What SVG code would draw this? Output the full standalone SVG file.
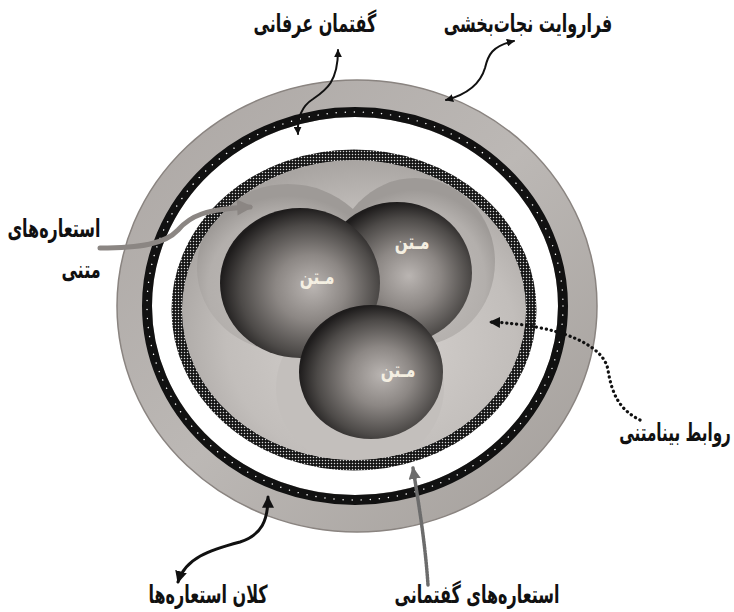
<svg xmlns="http://www.w3.org/2000/svg" width="734" height="612" viewBox="0 0 734 612">
<style>
.lbl{font-family:"DejaVu Sans",sans-serif;font-weight:bold;font-size:20px;fill:#111;}
.tx{font-family:"DejaVu Sans",sans-serif;font-weight:bold;font-size:17px;fill:#f4efe2;}
.conn{fill:none;stroke-linecap:round;}
</style>
<defs>
<linearGradient id="gOuter" x1="0" y1="0" x2="1" y2="1">
<stop offset="0" stop-color="#aba6a3"/>
<stop offset="0.5" stop-color="#bcb8b5"/>
<stop offset="1" stop-color="#a29d99"/>
</linearGradient>
<radialGradient id="gInner" cx="0.55" cy="0.6" r="0.6">
<stop offset="0" stop-color="#d6d2cf"/>
<stop offset="0.7" stop-color="#c2bebb"/>
<stop offset="1" stop-color="#a9a5a2"/>
</radialGradient>
<radialGradient id="gHalo" cx="0.5" cy="0.62" r="0.55">
<stop offset="0" stop-color="#c4c0bd"/>
<stop offset="0.8" stop-color="#b3afac"/>
<stop offset="1" stop-color="#9e9a97"/>
</radialGradient>
<radialGradient id="gSphere" cx="0.55" cy="0.55" r="0.55" fx="0.58" fy="0.52">
<stop offset="0" stop-color="#bab5b2"/>
<stop offset="0.4" stop-color="#8c8784"/>
<stop offset="0.78" stop-color="#4d4a48"/>
<stop offset="1" stop-color="#1e1c1c"/>
</radialGradient>
<pattern id="pDots" width="3" height="3" patternUnits="userSpaceOnUse">
<rect width="3" height="3" fill="#151515"/>
<circle cx="1.5" cy="1.5" r="0.75" fill="#d8d8d8"/>
</pattern>
<clipPath id="cInner"><ellipse cx="354" cy="310" rx="172" ry="150"/></clipPath>
<marker id="ah" viewBox="0 0 10 10" refX="9" refY="5" markerWidth="4" markerHeight="4" orient="auto-start-reverse" markerUnits="strokeWidth">
<path d="M0,0 L10,5 L0,10 z" fill="#111"/>
</marker>
<marker id="ahDot" viewBox="0 0 10 10" refX="9" refY="5" markerWidth="3.5" markerHeight="3.5" orient="auto" markerUnits="strokeWidth">
<path d="M0,0 L10,5 L0,10 z" fill="#111"/>
</marker>
<marker id="ahGray" viewBox="0 0 10 10" refX="8" refY="5" markerWidth="4" markerHeight="3.2" orient="auto" markerUnits="strokeWidth">
<path d="M0,0 L10,5 L0,10 z" fill="#8b8683"/>
</marker>
<marker id="ahHalf" viewBox="0 0 10 10" refX="9" refY="5" markerWidth="3.5" markerHeight="3.5" orient="auto" markerUnits="strokeWidth">
<path d="M0,0 L10,5 L0,10 z" fill="#6c6c6c"/>
</marker>
</defs>

<g id="outer-disk">
<ellipse cx="357" cy="306" rx="240" ry="226" fill="url(#gOuter)" stroke="#8a8480" stroke-width="1.5"/>
<ellipse cx="355" cy="306" rx="203" ry="189" fill="#fff"/>
</g>
<g id="ring-kalan">
<ellipse cx="355" cy="306" rx="208" ry="194" fill="none" stroke="#111" stroke-width="10"/>
<ellipse cx="355" cy="306" rx="208" ry="194" fill="none" stroke="#fff" stroke-width="1.4" stroke-dasharray="0.1 9" stroke-linecap="round"/>
</g>
<g id="ring-goftemani">
<ellipse cx="354" cy="310" rx="177" ry="155" fill="none" stroke="url(#pDots)" stroke-width="11"/>
</g>
<g id="inner-disk">
<ellipse cx="354" cy="310" rx="172" ry="150" fill="url(#gInner)"/>
<g clip-path="url(#cInner)">
<ellipse cx="415" cy="262" rx="80" ry="84" fill="url(#gHalo)"/>
<ellipse cx="288" cy="268" rx="91" ry="84" fill="url(#gHalo)"/>
<ellipse cx="360" cy="388" rx="84" ry="80" fill="#c3bfbc"/>
</g>
</g>
<g id="sphere-b">
<ellipse cx="397" cy="273" rx="75" ry="71" fill="url(#gSphere)"/>
<text class="tx" transform="translate(412,249) scale(0.9,1.25)" text-anchor="middle">مـتن</text>
</g>
<g id="sphere-a">
<ellipse cx="300" cy="283" rx="80" ry="75" fill="url(#gSphere)"/>
<text class="tx" transform="translate(317,284) scale(0.9,1.25)" text-anchor="middle">مـتن</text>
</g>
<g id="sphere-c">
<ellipse cx="371" cy="372" rx="72" ry="67" fill="url(#gSphere)"/>
<text class="tx" transform="translate(398,377) scale(0.9,1.25)" text-anchor="middle">مـتن</text>
</g>

<g id="connectors">
<path class="conn" d="M298,134 C297,118 302,106 313,99 C326,90 338,82 338,50" stroke="#111" stroke-width="2" marker-start="url(#ah)" marker-end="url(#ah)"/>
<path class="conn" d="M446,100 C465,95 480,85 485,68 C488,55 492,46 514,41" stroke="#111" stroke-width="2" marker-start="url(#ah)" marker-end="url(#ah)"/>
<path class="conn" d="M100,248 C140,248 165,244 178,230 C190,216 205,209 250,207" stroke="#8b8683" stroke-width="5" stroke-linecap="butt" marker-end="url(#ahGray)"/>
<path class="conn" d="M640,420 C620,410 612,395 608,370 C604,345 560,325 490,322" stroke="#111" stroke-width="3.2" stroke-dasharray="0.2 4.8" marker-end="url(#ahDot)"/>
<path class="conn" d="M268,497 C268,520 262,535 240,542 C210,550 185,558 178,582" stroke="#111" stroke-width="3" marker-start="url(#ah)" marker-end="url(#ah)"/>
<path class="conn" d="M428,585 C425,540 418,500 413,468" stroke="#6c6c6c" stroke-width="3.5" stroke-dasharray="2 1" stroke-linecap="butt" marker-end="url(#ahHalf)"/>
</g>

<g id="labels">
<text class="lbl" transform="translate(315,32) scale(0.8,1.25)" text-anchor="middle">گفتمان عرفانی</text>
<text class="lbl" transform="translate(528,32) scale(0.8,1.25)" text-anchor="middle">فراروایت نجات‌بخشی</text>
<text class="lbl" transform="translate(54,237) scale(0.8,1.25)" text-anchor="middle">استعاره‌های</text>
<text class="lbl" transform="translate(81,278) scale(0.8,1.25)" text-anchor="middle">متنی</text>
<text class="lbl" transform="translate(675,441) scale(0.76,1.25)" text-anchor="middle">روابط بینامتنی</text>
<text class="lbl" transform="translate(208,603) scale(0.8,1.25)" text-anchor="middle">کلان استعاره‌ها</text>
<text class="lbl" transform="translate(477,603) scale(0.8,1.25)" text-anchor="middle">استعاره‌های گفتمانی</text>
</g>
</svg>
